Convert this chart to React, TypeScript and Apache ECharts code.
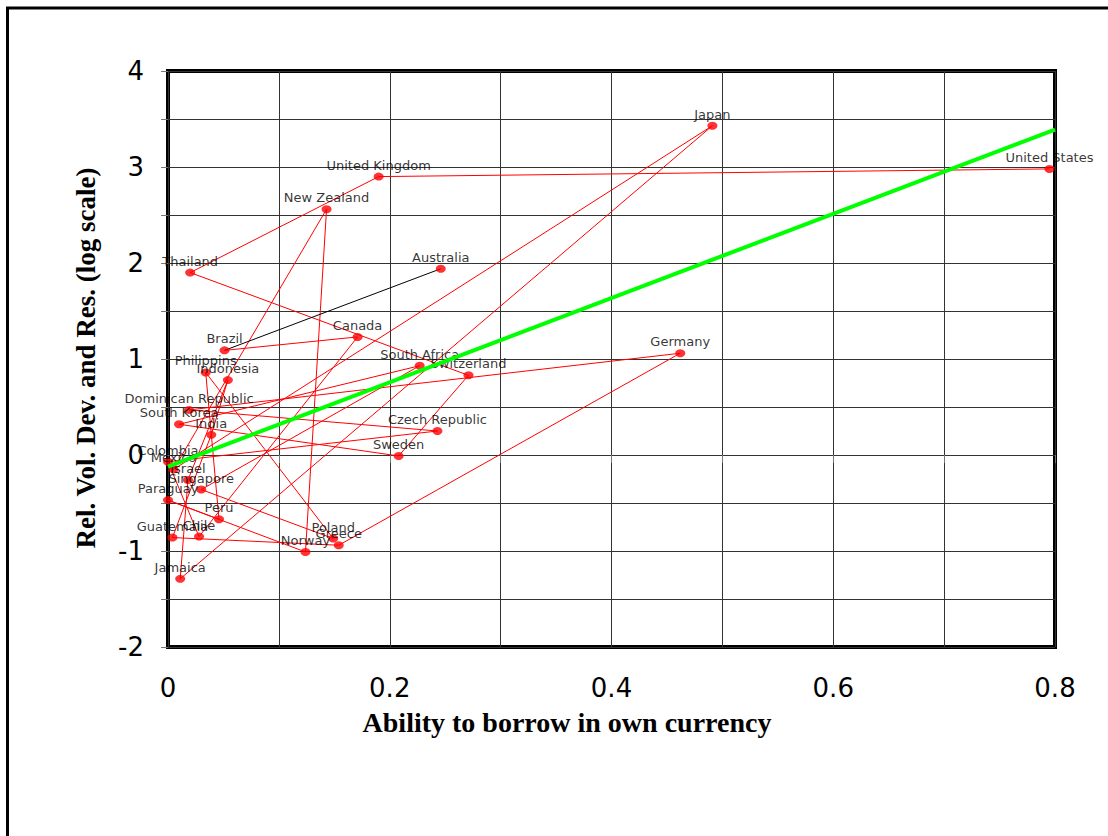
import React, { useEffect, useRef } from "react";
import * as echarts from "echarts";

// Countries in data order (alphabetical, as in the source)
const countries = [
  "Australia", "Brazil", "Canada", "Chile", "Colombia", "Czech Republic",
  "Dominican Republic", "Germany", "Greece", "Guatemala", "India", "Indonesia",
  "Israel", "Jamaica", "Japan", "Mexico", "New Zealand", "Norway", "Paraguay",
  "Peru", "Philippins", "Poland", "Singapore", "South Africa", "South Korea",
  "Sweden", "Switzerland", "Thailand", "United Kingdom", "United States",
];

// Ability to borrow in own currency (x)
const borrowAbility = [
  0.246, 0.051, 0.171, 0.028, 0.0, 0.243,
  0.019, 0.462, 0.154, 0.004, 0.039, 0.054,
  0.018, 0.011, 0.491, 0.005, 0.143, 0.124, 0.0,
  0.046, 0.034, 0.149, 0.03, 0.227, 0.01,
  0.208, 0.271, 0.02, 0.19, 0.795,
];

// Rel. Vol. Dev. and Res. (log scale) (y)
const relVolatility = [
  1.94, 1.09, 1.23, -0.85, -0.07, 0.25,
  0.47, 1.06, -0.94, -0.86, 0.21, 0.78,
  -0.26, -1.29, 3.43, -0.15, 2.56, -1.01, -0.47,
  -0.67, 0.86, -0.87, -0.36, 0.93, 0.32,
  -0.01, 0.83, 1.9, 2.9, 2.98,
];

// Fitted trend line end points
const trendX = [0, 0.8];
const trendY = [-0.12, 3.39];

const xTitle = "Ability to borrow in own currency";
const yTitle = "Rel. Vol. Dev. and Res. (log scale)";

export default function App() {
  const ref = useRef<HTMLDivElement>(null);

  useEffect(() => {
    if (!ref.current) return;
    const chart = echarts.init(ref.current, null, { renderer: "svg" });

    const points = countries.map((c, i) => [borrowAbility[i], relVolatility[i], c]);
    const trend = trendX.map((x, i) => [x, trendY[i]]);

    const option = {
      animation: false,
      backgroundColor: "#fff",
      grid: {
        left: 168,
        top: 71,
        right: 53,
        bottom: 189,
        show: true,
        borderColor: "#000",
        borderWidth: 4,
        backgroundColor: "transparent",
      },
      xAxis: {
        type: "value",
        min: 0,
        max: 0.8,
        interval: 0.1,
        axisLine: { show: false },
        axisTick: { show: true, length: 8, lineStyle: { color: "#777", width: 1 } },
        splitLine: { show: true, lineStyle: { color: "#333", width: 1 } },
        axisLabel: {
          margin: 28,
          fontFamily: "DejaVu Sans",
          fontSize: 26,
          color: "#000",
          formatter: (v: number) => {
            const t = Math.round(v * 10);
            if (t % 2 !== 0) return "";
            return t === 0 ? "0" : (t / 10).toString();
          },
        },
      },
      yAxis: {
        type: "value",
        min: -2,
        max: 4,
        interval: 0.5,
        axisLine: { show: false },
        axisTick: { show: true, length: 7, lineStyle: { color: "#777", width: 1 } },
        splitLine: { show: true, lineStyle: { color: "#333", width: 1 } },
        axisLabel: {
          margin: 24,
          fontFamily: "DejaVu Sans",
          fontSize: 26,
          color: "#000",
          formatter: (v: number) => {
            const t = Math.round(v * 2);
            if (t % 2 !== 0) return "";
            return String(t / 2);
          },
        },
      },
      series: [
        {
          type: "line",
          name: "path",
          data: points.slice(1),
          showSymbol: false,
          symbol: "none",
          lineStyle: { color: "#ff0000", width: 1 },
          z: 2,
          silent: true,
        },
        {
          type: "line",
          name: "first",
          data: points.slice(0, 2),
          showSymbol: false,
          symbol: "none",
          lineStyle: { color: "#000", width: 1 },
          z: 2,
          silent: true,
        },
        {
          type: "scatter",
          name: "countries",
          data: points,
          symbol: "circle",
          symbolSize: [10, 8],
          itemStyle: { color: "#ff0000" },
          label: {
            show: true,
            position: "top",
            distance: 1,
            formatter: (p: any) => p.data[2],
            fontFamily: "DejaVu Sans",
            fontSize: 13,
            color: "#000",
          },
          z: 3,
        },
        {
          type: "line",
          name: "trend",
          data: trend,
          showSymbol: false,
          symbol: "none",
          lineStyle: { color: "#00ff00", width: 4 },
          z: 5,
          silent: true,
        },
      ],
      graphic: [
        {
          type: "polyline",
          shape: { points: [[7.5, 840], [7.5, 8], [1112, 8]] },
          style: { stroke: "#000", lineWidth: 3, fill: "none" },
          silent: true,
        },
        {
          type: "text",
          x: 567,
          y: 722,
          style: {
            text: xTitle,
            fontFamily: "Liberation Serif",
            fontWeight: "bold",
            fontSize: 28,
            fill: "#000",
            align: "center",
            verticalAlign: "middle",
          },
        },
        {
          type: "text",
          x: 86,
          y: 358,
          rotation: Math.PI / 2,
          style: {
            text: yTitle,
            fontFamily: "Liberation Serif",
            fontWeight: "bold",
            fontSize: 27,
            fill: "#000",
            align: "center",
            verticalAlign: "middle",
          },
        },
      ],
    };

    chart.setOption(option as any);
    return () => chart.dispose();
  }, []);

  return (
    <div
      ref={ref}
      style={{ position: "absolute", left: 0, top: 0, width: 1108, height: 836, background: "#fff" }}
    />
  );
}
